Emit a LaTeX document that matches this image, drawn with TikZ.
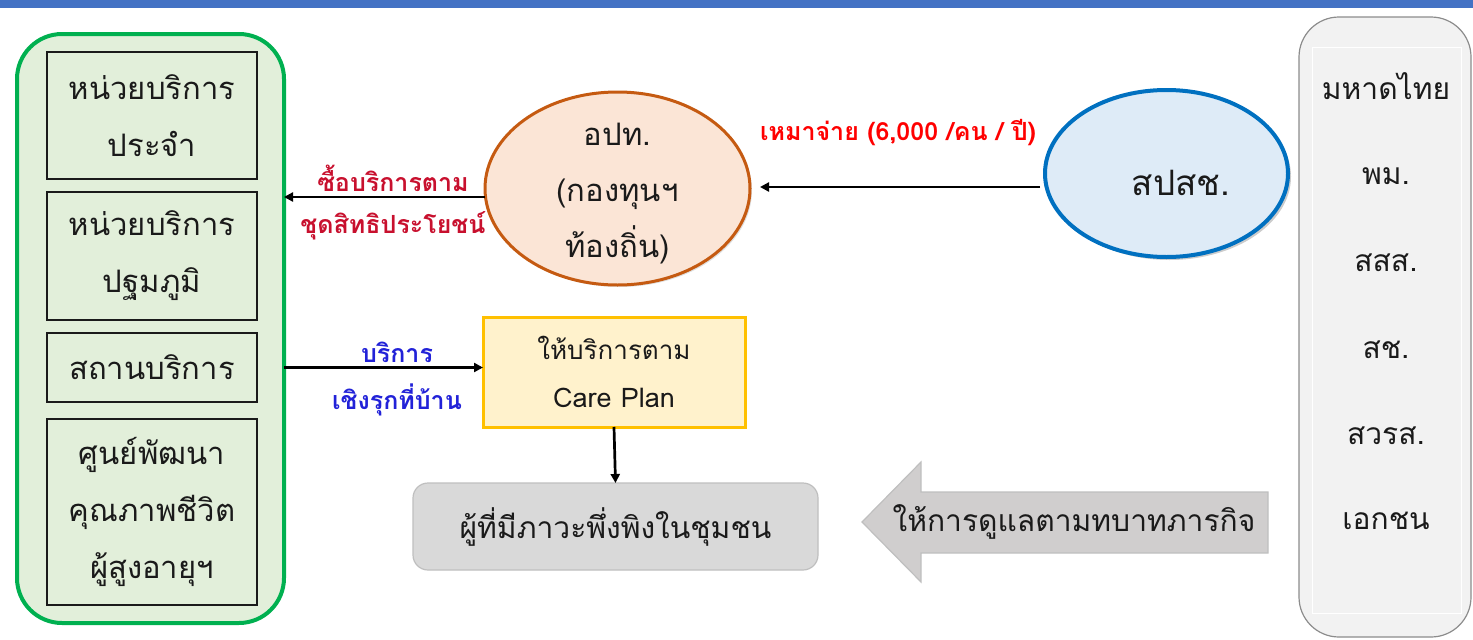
\documentclass[tikz,border=0pt]{standalone}
\usepackage{fontspec}
\setmainfont[Script=Thai]{Loma}
\usetikzlibrary{arrows.meta,shadows,shapes.geometric}
\definecolor{topbar}{HTML}{4472C4}
\definecolor{grnline}{HTML}{00B050}
\definecolor{grnfill}{HTML}{E2EFDA}
\definecolor{orline}{HTML}{C55A11}
\definecolor{orfill}{HTML}{FBE5D6}
\definecolor{blline}{HTML}{0070C0}
\definecolor{blfill}{HTML}{DEEBF7}
\definecolor{ylline}{HTML}{FFC000}
\definecolor{ylfill}{HTML}{FFF2CC}
\definecolor{gyfill}{HTML}{D9D9D9}
\definecolor{gyline}{HTML}{BFBFBF}
\definecolor{arfill}{HTML}{D0CECE}
\definecolor{rtfill}{HTML}{F2F2F2}
\definecolor{rtline}{HTML}{8C8C8C}
\definecolor{txt}{HTML}{1A1A1A}
\definecolor{lblred}{HTML}{FF0000}
\definecolor{lbldred}{HTML}{C8102E}
\definecolor{lblblue}{HTML}{2222D8}
\begin{document}
\begin{tikzpicture}[x=1pt,y=-1pt,
  every node/.style={inner sep=0pt,outer sep=0pt,text=txt},
  unitbox/.style={draw=txt,line width=1.6pt,fill=grnfill,minimum width=210pt,align=center,font=\fontsize{31}{57}\selectfont},
  conn/.style={line width=2.7pt,-{Triangle[length=9pt,width=9pt]}},
  lbl/.style={font=\fontsize{25}{28}\selectfont\bfseries},
  rtlbl/.style={font=\fontsize{30}{34}\selectfont}
]
\useasboundingbox (0,0) rectangle (1473,640);
\fill[topbar] (0,0) rectangle (1473,8);
% left green group
\node[draw=grnline,line width=4pt,fill=grnfill,rounded corners=45pt,minimum width=267pt,minimum height=589pt] (green) at (150.5,328.5) {};
\node[unitbox,minimum height=127pt] (b1) at (152,115.5) {หน่วยบริการ\\ประจำ};
\node[unitbox,minimum height=128pt] (b2) at (152,256) {หน่วยบริการ\\ปฐมภูมิ};
\node[unitbox,minimum height=69pt] (b3) at (152,367.5) {สถานบริการ};
\node[unitbox,minimum height=186pt] (b4) at (152,512) {ศูนย์พัฒนา\\คุณภาพชีวิต\\ผู้สูงอายุฯ};
% ellipses
\node[ellipse,draw=orline,line width=3pt,fill=orfill,minimum width=265pt,minimum height=193pt,drop shadow={opacity=0.25,shadow xshift=2pt,shadow yshift=-2pt}] (opt) at (617.5,188.5) {};
\node[align=center,font=\fontsize{31}{56}\selectfont] (optt) at (617.5,194) {อปท.\\(กองทุนฯ\\ท้องถิ่น)};
\node[ellipse,draw=blline,line width=4pt,fill=blfill,minimum width=243pt,minimum height=167pt,drop shadow={opacity=0.4,shadow xshift=3pt,shadow yshift=-3pt}] (sps) at (1166.5,173.5) {};
\node[font=\fontsize{35}{40}\selectfont] (spst) at (1181,183) {สปสช.};
% yellow box
\node[draw=ylline,line width=3pt,fill=ylfill,minimum width=262pt,minimum height=110pt,align=center,font=\fontsize{26}{48}\selectfont] (yel) at (614,372) {ให้บริการตาม\\\fontsize{27}{30}\selectfont Care Plan};
% gray box
\node[draw=gyline,line width=1.2pt,fill=gyfill,rounded corners=15pt,minimum width=405pt,minimum height=87pt,font=\fontsize{30}{34}\selectfont] (gry) at (615.5,526.5) {ผู้ที่มีภาวะพึ่งพิงในชุมชน};
% right box
\node[draw=rtline,line width=1.2pt,fill=rtfill,rounded corners=40pt,minimum width=172pt,minimum height=620pt] (rt) at (1385,327) {};
\node[draw=white,line width=1pt,minimum width=149pt,minimum height=566pt] (rtin) at (1386.5,330) {};
\node[rtlbl] (r1) at (1386,86) {มหาดไทย};
\node[rtlbl] (r2) at (1386,176) {พม.};
\node[rtlbl] (r3) at (1386,263) {สสส.};
\node[rtlbl] (r4) at (1386,350) {สช.};
\node[rtlbl] (r5) at (1386,436) {สวรส.};
\node[rtlbl] (r6) at (1386,521) {เอกชน};
% big arrow
\draw[draw=gyline,line width=1.2pt,fill=arfill] (862,522) -- (921,462) -- (921,492) -- (1268,492) -- (1268,553) -- (921,553) -- (921,582) -- cycle;
\node[font=\fontsize{30}{34}\selectfont] (bat) at (1074,522) {ให้การดูแลตามทบาทภารกิจ};
% connectors
\draw[conn] (opt.east -| sps.west) ++(-5,-1.5) coordinate (s1) -- ([xshift=10pt,yshift=1.5pt]opt.east);
\node[lbl,text=lblred] (l1) at (898,133) {เหมาจ่าย (6,000 /คน / ปี)};
\draw[conn] ([yshift=-8.5pt]opt.west) -- ([yshift=-8.5pt]opt.west -| green.east);
\node[lbl,text=lbldred] (l2) at (393,178) {ซื้อบริการตาม};
\node[lbl,text=lbldred] (l3) at (393,226) {ชุดสิทธิประโยชน์};
\draw[conn] (b3 -| green.east) -- (b3 -| yel.west);
\node[lbl,text=lblblue] (l4) at (397,352) {บริการ};
\node[lbl,text=lblblue] (l5) at (397,400) {เชิงรุกที่บ้าน};
\draw[conn] (yel.south) -- (gry.north);
\end{tikzpicture}
\end{document}
